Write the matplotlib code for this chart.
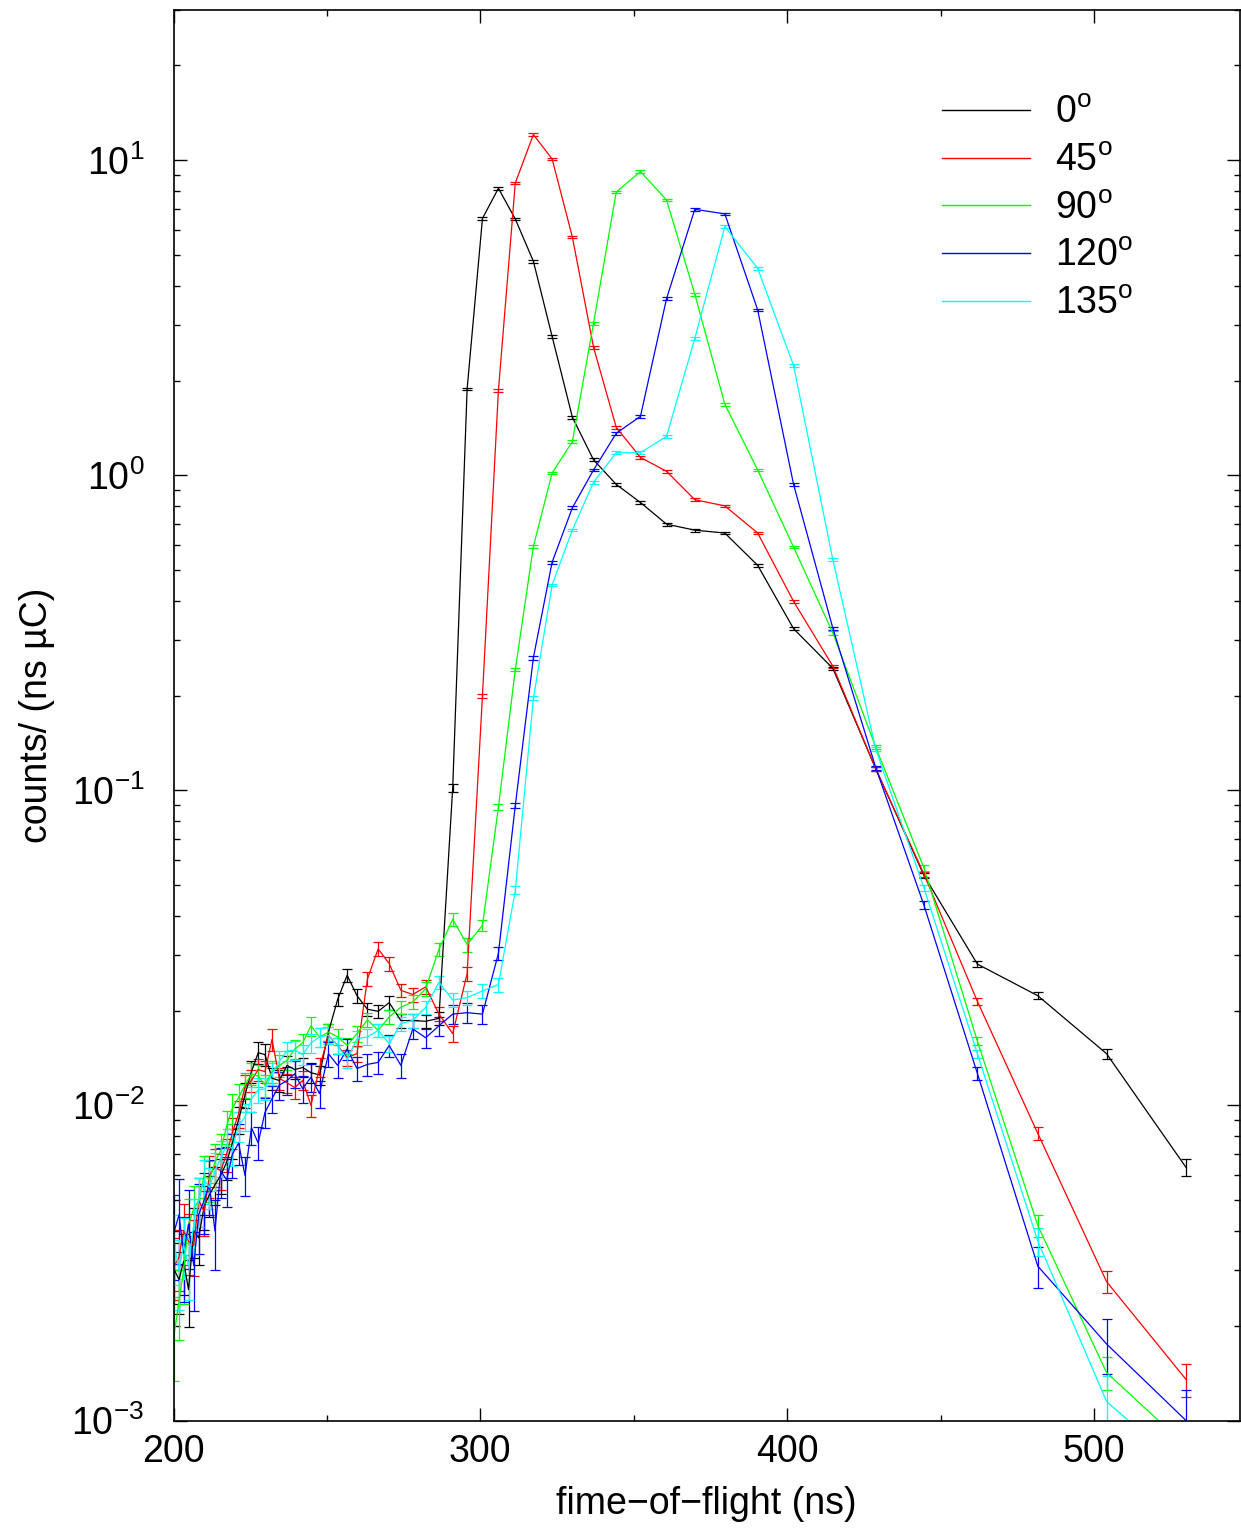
import matplotlib
matplotlib.use("Agg")
import matplotlib.pyplot as plt
from matplotlib.lines import Line2D
import numpy as np

plt.rcParams['font.family'] = ['Liberation Sans', 'DejaVu Sans']
plt.rcParams['mathtext.fontset'] = 'custom'
plt.rcParams['mathtext.rm'] = 'Liberation Sans'
plt.rcParams['mathtext.it'] = 'Liberation Sans:italic'
plt.rcParams['mathtext.bf'] = 'Liberation Sans:bold'
plt.rcParams['mathtext.sf'] = 'Liberation Sans'

# time-of-flight bin centres (ns)
tof = [200.3, 201.8, 203.3, 204.9, 206.6, 208.2, 210.0, 211.7, 213.5, 215.4,
       217.3, 219.2, 221.2, 223.3, 225.4, 227.6, 229.8, 232.1, 234.5, 237.0,
       239.5, 242.1, 244.8, 247.6, 250.5, 253.5, 256.6, 259.8, 263.2, 266.7,
       270.3, 274.1, 278.0, 282.2, 286.5, 291.0, 295.7, 300.7, 305.9, 311.4,
       317.3, 323.4, 330.0, 336.9, 344.3, 352.2, 360.7, 369.9, 379.7, 390.4,
       402.1, 414.9, 428.9, 444.6, 462.0, 481.7, 504.1, 530.0]

labels = ["0", "45", "90", "120", "135"]
colors = ["#000000", "#ff0000", "#00ff00", "#0000ff", "#00ffff"]

y_0 = [0.0030, 0.0028, 0.0032, 0.0026, 0.0040, 0.0038, 0.0048, 0.0052, 0.0056, 0.0060,
       0.0066, 0.0076, 0.0090, 0.0108, 0.0128, 0.0147, 0.0145, 0.0122, 0.0120, 0.0134,
       0.0130, 0.0132, 0.0127, 0.0125, 0.0171, 0.0217, 0.0259, 0.0223, 0.0202, 0.0199,
       0.0212, 0.0186, 0.0186, 0.0185, 0.0189, 0.102, 1.88, 6.54, 8.15, 6.51,
       4.78, 2.76, 1.53, 1.12, 0.936, 0.82, 0.70, 0.67, 0.656, 0.518,
       0.326, 0.244, 0.117, 0.0537, 0.0281, 0.0223, 0.0146, 0.00636]
y_45 = [0.0031, 0.0033, 0.0040, 0.0037, 0.0036, 0.0050, 0.0046, 0.0060, 0.0064, 0.0062,
        0.0070, 0.0082, 0.0094, 0.0115, 0.0120, 0.0130, 0.0128, 0.0162, 0.0122, 0.0118,
        0.0114, 0.0120, 0.0100, 0.0132, 0.0167, 0.0155, 0.0142, 0.0146, 0.0252, 0.0314,
        0.0282, 0.0232, 0.0225, 0.0238, 0.0195, 0.0169, 0.0262, 0.200, 1.86, 8.47,
        12.07, 10.1, 5.71, 2.55, 1.42, 1.14, 1.03, 0.837, 0.80, 0.656,
        0.398, 0.248, 0.117, 0.0542, 0.0214, 0.00815, 0.00276, 0.00135]
y_90 = [0.0019, 0.0024, 0.0030, 0.0042, 0.0047, 0.0050, 0.0060, 0.0058, 0.0066, 0.0072,
        0.0086, 0.0098, 0.0106, 0.0116, 0.0126, 0.0124, 0.0116, 0.0128, 0.0134, 0.0139,
        0.0151, 0.0158, 0.0179, 0.0165, 0.0171, 0.0165, 0.0155, 0.0169, 0.0187, 0.0173,
        0.0191, 0.0205, 0.0213, 0.0235, 0.0313, 0.0390, 0.0324, 0.0373, 0.0885, 0.2415,
        0.595, 1.017, 1.28, 3.04, 7.93, 9.21, 7.48, 3.76, 1.68, 1.04,
        0.592, 0.316, 0.137, 0.0567, 0.0160, 0.00416, 0.00142, 0.00083]
y_120 = [0.0040, 0.0045, 0.0034, 0.0042, 0.0031, 0.0045, 0.0050, 0.0056, 0.0040, 0.0062,
         0.0058, 0.0070, 0.0076, 0.0060, 0.0085, 0.0076, 0.0095, 0.0105, 0.0116, 0.0120,
         0.0126, 0.0113, 0.0123, 0.0109, 0.0146, 0.0134, 0.0151, 0.0131, 0.0135, 0.0137,
         0.0155, 0.0134, 0.0175, 0.0164, 0.0179, 0.0195, 0.0197, 0.0195, 0.0304, 0.0896,
         0.264, 0.530, 0.789, 1.04, 1.36, 1.54, 3.64, 6.99, 6.76, 3.35,
         0.936, 0.327, 0.118, 0.0432, 0.01264, 0.00309, 0.00175, 0.00100]
y_135 = [0.0036, 0.0030, 0.0036, 0.0031, 0.0042, 0.0050, 0.0058, 0.0055, 0.0062, 0.0068,
         0.0075, 0.0073, 0.0086, 0.0092, 0.0105, 0.0112, 0.0113, 0.0126, 0.0138, 0.0149,
         0.0150, 0.0145, 0.0158, 0.0165, 0.0167, 0.0155, 0.0140, 0.0163, 0.0165, 0.0173,
         0.0157, 0.0182, 0.0186, 0.0205, 0.0246, 0.0216, 0.0220, 0.0231, 0.0242, 0.0482,
         0.196, 0.449, 0.671, 0.951, 1.18, 1.18, 1.33, 2.72, 6.16, 4.54,
         2.23, 0.540, 0.135, 0.049, 0.0146, 0.00371, 0.00115, 0.00069]

# relative errors
e_0 = [0.22, 0.22, 0.22, 0.24, 0.18, 0.18, 0.16, 0.15, 0.14, 0.13,
       0.12, 0.11, 0.10, 0.09, 0.08, 0.08, 0.08, 0.08, 0.08, 0.07,
       0.07, 0.07, 0.07, 0.07, 0.06, 0.05, 0.05, 0.05, 0.05, 0.05,
       0.05, 0.05, 0.05, 0.05, 0.05, 0.03, 0.01, 0.01, 0.01, 0.01,
       0.01, 0.01, 0.01, 0.01, 0.01, 0.01, 0.01, 0.01, 0.01, 0.01,
       0.01, 0.012, 0.015, 0.02, 0.02, 0.025, 0.035, 0.06]
e_45 = [0.22, 0.22, 0.22, 0.22, 0.20, 0.18, 0.16, 0.15, 0.14, 0.13,
        0.12, 0.11, 0.10, 0.09, 0.08, 0.08, 0.08, 0.08, 0.08, 0.07,
        0.08, 0.07, 0.08, 0.07, 0.06, 0.06, 0.06, 0.06, 0.05, 0.05,
        0.05, 0.05, 0.05, 0.05, 0.05, 0.06, 0.05, 0.015, 0.01, 0.01,
        0.01, 0.01, 0.01, 0.01, 0.01, 0.01, 0.01, 0.01, 0.01, 0.01,
        0.01, 0.012, 0.015, 0.02, 0.025, 0.05, 0.08, 0.12]
e_90 = [0.30, 0.25, 0.22, 0.20, 0.18, 0.18, 0.15, 0.15, 0.14, 0.13,
        0.12, 0.11, 0.10, 0.09, 0.08, 0.08, 0.08, 0.08, 0.08, 0.07,
        0.07, 0.07, 0.07, 0.07, 0.06, 0.06, 0.06, 0.06, 0.05, 0.05,
        0.05, 0.05, 0.05, 0.05, 0.05, 0.05, 0.05, 0.04, 0.02, 0.01,
        0.01, 0.01, 0.01, 0.01, 0.01, 0.01, 0.01, 0.01, 0.01, 0.01,
        0.01, 0.012, 0.015, 0.02, 0.03, 0.08, 0.12, 0.18]
e_120 = [0.30, 0.30, 0.30, 0.28, 0.28, 0.25, 0.22, 0.20, 0.25, 0.18,
         0.18, 0.16, 0.15, 0.14, 0.12, 0.12, 0.11, 0.10, 0.10, 0.10,
         0.10, 0.10, 0.10, 0.10, 0.09, 0.09, 0.08, 0.09, 0.08, 0.08,
         0.08, 0.09, 0.07, 0.07, 0.07, 0.07, 0.07, 0.07, 0.05, 0.02,
         0.015, 0.01, 0.01, 0.01, 0.01, 0.01, 0.01, 0.01, 0.01, 0.01,
         0.01, 0.012, 0.015, 0.03, 0.05, 0.15, 0.20, 0.25]
e_135 = [0.25, 0.25, 0.22, 0.22, 0.20, 0.18, 0.16, 0.15, 0.14, 0.13,
         0.12, 0.12, 0.11, 0.10, 0.09, 0.09, 0.08, 0.08, 0.08, 0.07,
         0.07, 0.07, 0.07, 0.07, 0.06, 0.06, 0.06, 0.06, 0.06, 0.05,
         0.06, 0.05, 0.05, 0.05, 0.05, 0.05, 0.05, 0.05, 0.05, 0.03,
         0.015, 0.01, 0.01, 0.01, 0.01, 0.01, 0.01, 0.01, 0.01, 0.01,
         0.01, 0.012, 0.015, 0.02, 0.03, 0.10, 0.20, 0.25]

series = [y_0, y_45, y_90, y_120, y_135]
errors = [e_0, e_45, e_90, e_120, e_135]

W, H = 1241, 1528
fig = plt.figure(figsize=(W / 100, H / 100), dpi=100)
ax = fig.add_axes([173.5 / W, (H - 1420.5) / H, (1240 - 173.5) / W, (1420.5 - 10) / H])

handles = []
for lab, col, ys, es in zip(labels, colors, series, errors):
    ys = np.asarray(ys)
    err = ys * np.asarray(es)
    ax.errorbar(tof, ys, yerr=err, color=col, lw=0.9, elinewidth=0.9,
                capsize=3.6, capthick=0.9)
    handles.append(Line2D([], [], color=col, lw=1.0,
                          label=lab + r"$^{\mathrm{o}}$"))

ax.set_yscale('log')
ax.set_xlim(200, 547.6)
ax.set_ylim(1e-3, 30)
ax.set_xticks([200, 300, 400, 500])
ax.set_xticks([250, 350, 450], minor=True)

ax.tick_params(which='both', direction='in', top=True, right=True,
               labelsize=27, width=1)
ax.tick_params(which='major', length=9.5)
ax.tick_params(axis='x', which='major', pad=10)
ax.tick_params(axis='y', which='major', pad=21)
ax.tick_params(which='minor', length=4.5)
for sp in ax.spines.values():
    sp.set_linewidth(1.2)

ax.set_xlabel("fime\u2212of\u2212flight (ns)", fontsize=27, labelpad=11)
ax.set_ylabel("counts/ (ns \u00b5C)", fontsize=27, labelpad=12)

leg = ax.legend(handles=handles, loc='upper left',
                bbox_to_anchor=(0.7206, 0.9395), frameon=False,
                fontsize=27, handlelength=2.35, handletextpad=0.67,
                labelspacing=0.31, borderaxespad=0.0, borderpad=0.0)

fig.savefig("out.png", dpi=100)
